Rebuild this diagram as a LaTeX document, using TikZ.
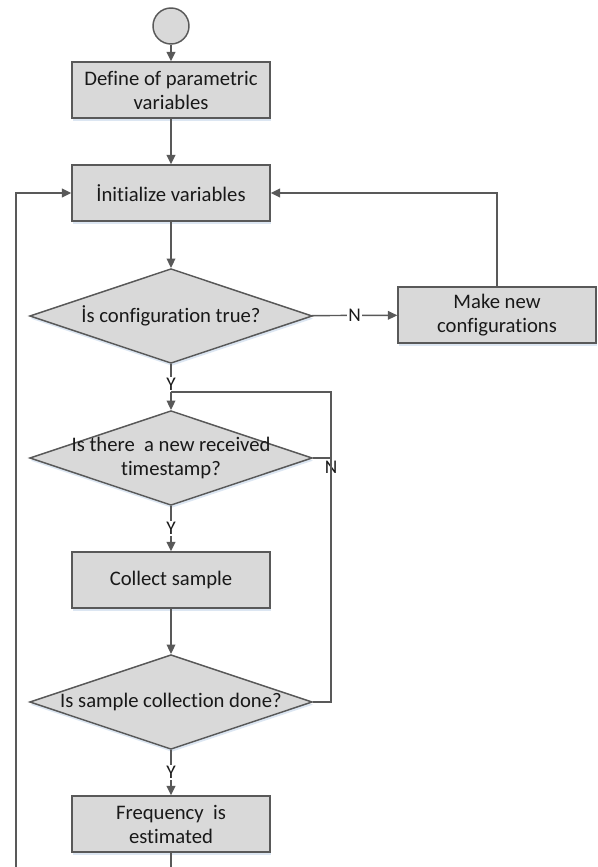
\documentclass[tikz,border=0pt]{standalone}
\usepackage{fontspec}
\setmainfont{Carlito}[Ligatures=NoCommon]
\usetikzlibrary{arrows.meta,shapes.geometric,shadows}

\definecolor{boxfill}{HTML}{D9D9D9}
\definecolor{boxline}{HTML}{595959}
\definecolor{glow}{HTML}{DCE6F2}

\tikzset{
    every node/.style={font=\fontsize{15.5}{18}\selectfont, text=black!90},
    process/.style={rectangle, draw=boxline, fill=boxfill, line width=1.1pt,
        minimum width=148.5pt, minimum height=42pt, align=center,
        drop shadow={shadow xshift=0.6pt, shadow yshift=-2pt, fill=glow, opacity=1}},
    decision/.style={diamond, draw=boxline, fill=boxfill, line width=1.1pt,
        minimum width=212pt, minimum height=71pt, inner sep=0pt,
        drop shadow={shadow xshift=0.6pt, shadow yshift=-2pt, fill=glow, opacity=1}},
    terminal/.style={circle, draw=boxline, fill=boxfill, line width=1.1pt,
        minimum size=27pt, inner sep=0pt},
    link/.style={draw=boxline, line width=1.1pt},
    flow/.style={link, -{Triangle[length=7pt,width=6.5pt]}},
    answer/.style={fill=white, inner sep=1pt, font=\fontsize{14.5}{16}\selectfont}
}

\begin{document}
\begin{tikzpicture}[x=0.75pt, y=-0.75pt]
    \clip (0,0) rectangle (597,867);

    % boxes
    \node[terminal] (start) at (171,26) {};
    \node[process] (define) at (171,90) {Define of parametric\\variables};
    \node[process] (init) at (171,193) {İnitialize variables};
    \node[decision, label={[align=center]center:İs configuration true?}] (config) at (171,316) {};
    \node[process] (newconf) at (497,315) {Make new\\configurations};
    \node[decision, label={[align=center]center:{Is there\ \ a new received\\timestamp?}}] (received) at (171,458) {};
    \node[process] (collect) at (171,580) {Collect sample};
    \node[decision, label={[align=center]center:Is sample collection done?}] (done) at (171,702) {};
    \node[process] (freq) at (171,824) {Frequency\ \ is\\estimated};

    \coordinate (join) at (171,392);
    \coordinate (back) at (331,392);
    \coordinate (lowleft) at (16,900);

    % connectors
    \draw[flow] (start) -- (define);
    \draw[flow] (define) -- (init);
    \draw[flow] (init) -- (config);
    \draw[flow] (config) -- node[answer] {N} (newconf);
    \draw[flow] (newconf.north) |- (init.east);
    \draw[link] (config) -- node[answer, pos=0.72] {Y} (join);
    \draw[flow] (join) -- (received);
    \draw[link] (received.east) -| (back) -- (join);
    \node[font=\fontsize{14.5}{16}\selectfont, inner sep=2pt, below] (nolabel) at (received.east -| back) {N};
    \draw[flow] (received) -- node[answer] {Y} (collect);
    \draw[flow] (collect) -- (done);
    \draw[link] (done.east) -| (back);
    \draw[flow] (done) -- node[answer] {Y} (freq);
    \draw[flow] (freq.south) |- (lowleft) |- (init.west);
\end{tikzpicture}
\end{document}
